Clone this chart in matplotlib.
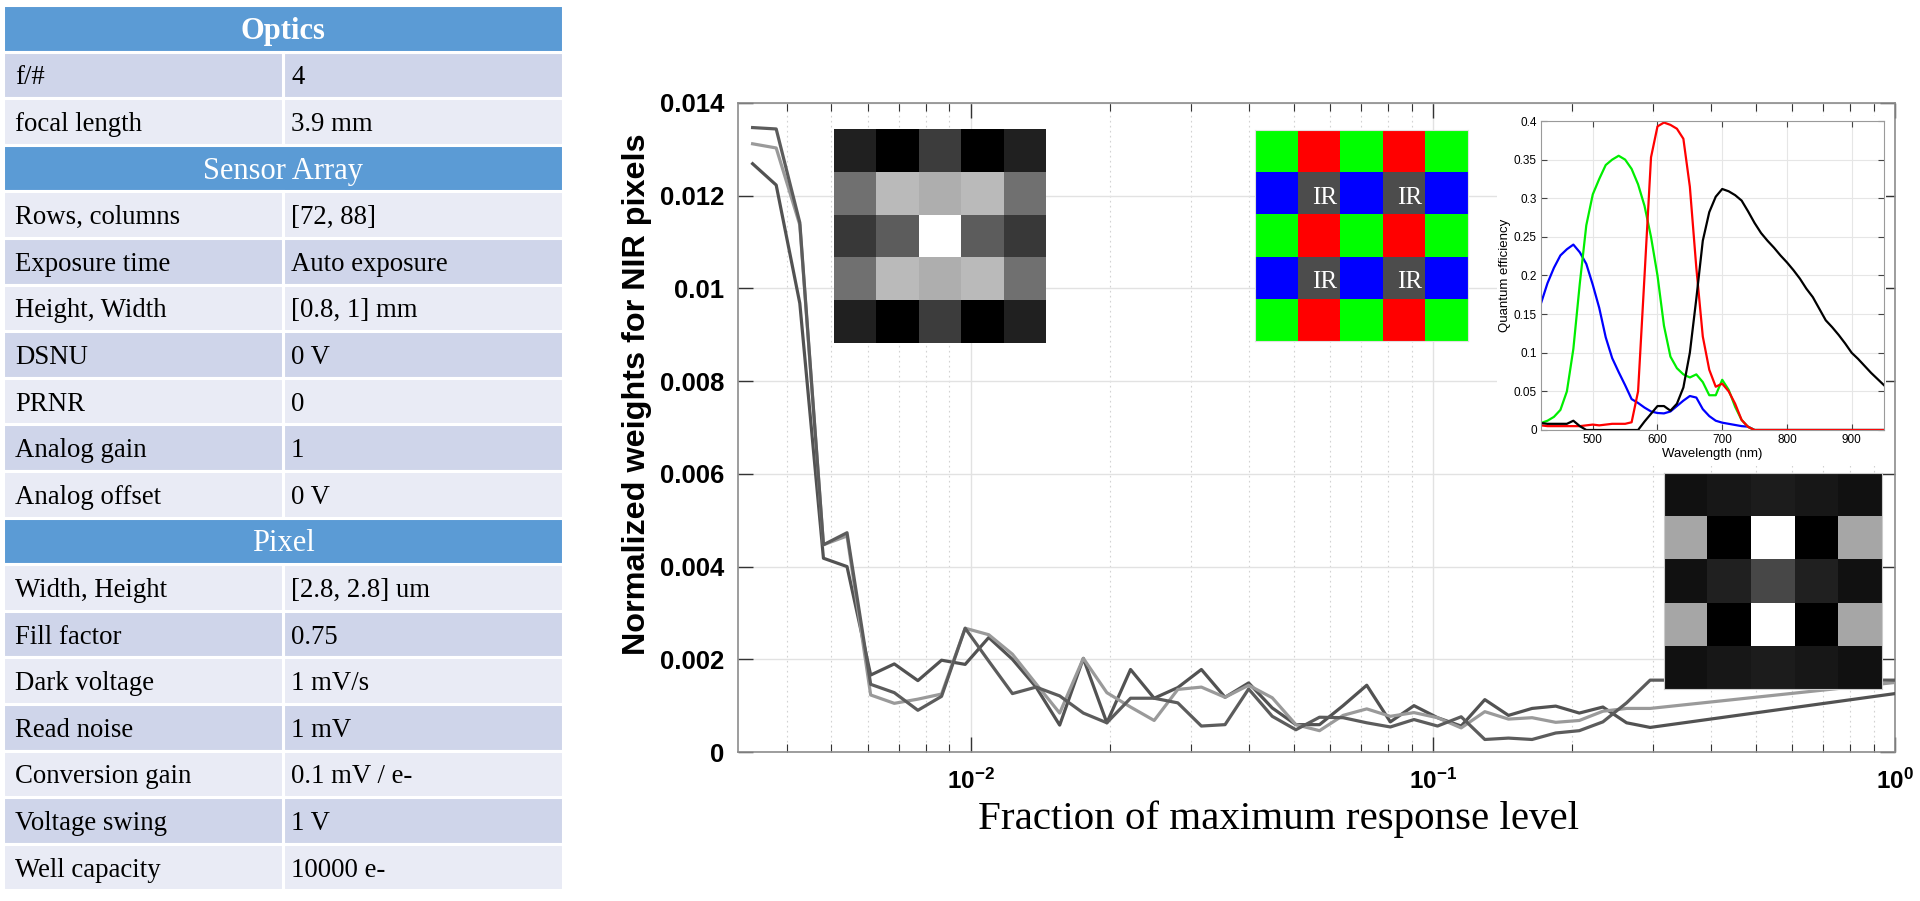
import numpy as np
import matplotlib
matplotlib.use('Agg')
import matplotlib.pyplot as plt
from matplotlib.patches import Rectangle
from matplotlib.ticker import LogLocator, NullFormatter

# ---------------- data ----------------
table_sections = ['Optics', 'Sensor Array', 'Pixel']
optics_params = ['f/#', 'focal length']
optics_values = ['4', '3.9 mm']
sensor_params = ['Rows, columns', 'Exposure time', 'Height, Width', 'DSNU', 'PRNR',
                 'Analog gain', 'Analog offset']
sensor_values = ['[72, 88]', 'Auto exposure', '[0.8, 1] mm', '0 V', '0', '1', '0 V']
pixel_params = ['Width, Height', 'Fill factor', 'Dark voltage', 'Read noise',
                'Conversion gain', 'Voltage swing', 'Well capacity']
pixel_values = ['[2.8, 2.8] um', '0.75', '1 mV/s', '1 mV', '0.1 mV / e-', '1 V', '10000 e-']

x_frac = [0.003377, 0.003798, 0.004272, 0.004806, 0.005405, 0.006081, 0.006840, 0.007693,
          0.008655, 0.009736, 0.01095, 0.01232, 0.01386, 0.01559, 0.01754, 0.01972,
          0.02219, 0.02496, 0.02808, 0.03158, 0.03553, 0.03996, 0.04495, 0.05057,
          0.05688, 0.06397, 0.07197, 0.08095, 0.09106, 0.1024, 0.1152, 0.1296,
          0.1458, 0.1640, 0.1845, 0.2075, 0.2334, 0.2626, 0.2953, 1.0]

nir_w1 = [0.01347, 0.01344, 0.01142, 0.00447, 0.00473, 0.00146, 0.00128, 0.00090,
          0.00120, 0.00267, 0.00196, 0.00126, 0.00140, 0.00121, 0.00084, 0.00063,
          0.00116, 0.00116, 0.00106, 0.00056, 0.00059, 0.00136, 0.00077, 0.00048,
          0.00075, 0.00074, 0.00063, 0.00054, 0.00070, 0.00056, 0.00076, 0.00027,
          0.00030, 0.00027, 0.00041, 0.00046, 0.00065, 0.00106, 0.00155, 0.00155]
nir_w2 = [0.01312, 0.01303, 0.01137, 0.00447, 0.00466, 0.00123, 0.00105, 0.00114,
          0.00125, 0.00267, 0.00253, 0.00211, 0.00147, 0.00084, 0.00202, 0.00128,
          0.00097, 0.00068, 0.00135, 0.00140, 0.00118, 0.00144, 0.00117, 0.00059,
          0.00046, 0.00079, 0.00093, 0.00077, 0.00085, 0.00074, 0.00052, 0.00087,
          0.00071, 0.00074, 0.00064, 0.00068, 0.00088, 0.00094, 0.00094, 0.00150]
nir_w3 = [0.01269, 0.01223, 0.00968, 0.00418, 0.00400, 0.00166, 0.00190, 0.00154,
          0.00198, 0.00189, 0.00247, 0.00200, 0.00140, 0.00058, 0.00202, 0.00063,
          0.00178, 0.00116, 0.00139, 0.00178, 0.00118, 0.00149, 0.00095, 0.00059,
          0.00059, 0.00100, 0.00144, 0.00065, 0.00100, 0.00074, 0.00056, 0.00113,
          0.00079, 0.00094, 0.00099, 0.00084, 0.00097, 0.00063, 0.00053, 0.00126]

y_ticks = [0, 0.002, 0.004, 0.006, 0.008, 0.010, 0.012, 0.014]
y_ticklabels = ['0', '0.002', '0.004', '0.006', '0.008', '0.01', '0.012', '0.014']
x_ticks = [0.01, 0.1, 1]
x_ticklabels = [r'$\mathbf{10^{-2}}$', r'$\mathbf{10^{-1}}$', r'$\mathbf{10^{0}}$']

# 5x5 weight kernels (grey levels)
kernel_rgb = [[0.13, 0.00, 0.24, 0.00, 0.13],
              [0.44, 0.73, 0.68, 0.73, 0.44],
              [0.22, 0.36, 1.00, 0.36, 0.22],
              [0.44, 0.73, 0.68, 0.73, 0.44],
              [0.13, 0.00, 0.24, 0.00, 0.13]]
kernel_nir = [[0.07, 0.09, 0.11, 0.09, 0.07],
              [0.65, 0.00, 1.00, 0.00, 0.65],
              [0.07, 0.13, 0.28, 0.13, 0.07],
              [0.65, 0.00, 1.00, 0.00, 0.65],
              [0.07, 0.09, 0.11, 0.09, 0.07]]
cfa_pattern = [['G', 'R', 'G', 'R', 'G'],
               ['B', 'IR', 'B', 'IR', 'B'],
               ['G', 'R', 'G', 'R', 'G'],
               ['B', 'IR', 'B', 'IR', 'B'],
               ['G', 'R', 'G', 'R', 'G']]

wavelength = [420, 430, 440, 450, 460, 470, 480, 490, 500, 510, 520, 530, 540, 550,
              560, 570, 580, 590, 600, 610, 620, 630, 640, 650, 660, 670, 680, 690,
              700, 710, 720, 730, 740, 750, 760, 770, 780, 790, 800, 810, 820, 830,
              840, 850, 860, 870, 880, 890, 900, 910, 920, 930, 940, 950]
qe_blue = [0.164, 0.190, 0.210, 0.226, 0.234, 0.240, 0.230, 0.215, 0.188, 0.158, 0.120,
           0.093, 0.075, 0.058, 0.040, 0.035, 0.029, 0.024, 0.022, 0.0215, 0.024, 0.031,
           0.038, 0.044, 0.042, 0.027, 0.018, 0.012, 0.0095, 0.008, 0.0065, 0.005, 0.0043,
           0, 0, 0, 0, 0, 0, 0, 0, 0, 0, 0, 0, 0, 0, 0, 0, 0, 0, 0, 0, 0]
qe_green = [0.009, 0.012, 0.017, 0.026, 0.050, 0.105, 0.190, 0.265, 0.305, 0.325, 0.343,
            0.350, 0.355, 0.350, 0.338, 0.318, 0.290, 0.250, 0.200, 0.135, 0.095, 0.080,
            0.072, 0.068, 0.072, 0.062, 0.045, 0.045, 0.065, 0.052, 0.030, 0.013, 0.004,
            0, 0, 0, 0, 0, 0, 0, 0, 0, 0, 0, 0, 0, 0, 0, 0, 0, 0, 0, 0, 0]
qe_red = [0.006, 0.005, 0.005, 0.005, 0.005, 0.005, 0.005, 0.006, 0.007, 0.006, 0.007,
          0.008, 0.008, 0.008, 0.010, 0.050, 0.200, 0.353, 0.393, 0.398, 0.395, 0.390,
          0.377, 0.315, 0.210, 0.121, 0.078, 0.056, 0.060, 0.050, 0.034, 0.013, 0.004,
          0, 0, 0, 0, 0, 0, 0, 0, 0, 0, 0, 0, 0, 0, 0, 0, 0, 0, 0, 0, 0]
qe_nir = [0.009, 0.008, 0.008, 0.008, 0.008, 0.012, 0.005, 0, 0, 0, 0, 0, 0, 0, 0, 0,
          0.011, 0.021, 0.031, 0.031, 0.025, 0.034, 0.055, 0.100, 0.170, 0.245, 0.282,
          0.302, 0.312, 0.309, 0.304, 0.297, 0.283, 0.268, 0.255, 0.245, 0.236, 0.226,
          0.217, 0.207, 0.196, 0.183, 0.172, 0.157, 0.142, 0.133, 0.123, 0.112, 0.100,
          0.092, 0.083, 0.074, 0.066, 0.058]
qe_xticks = [500, 600, 700, 800, 900]
qe_yticks = [0, 0.05, 0.1, 0.15, 0.2, 0.25, 0.3, 0.35, 0.4]
qe_yticklabels = ['0', '0.05', '0.1', '0.15', '0.2', '0.25', '0.3', '0.35', '0.4']

# ---------------- figure ----------------
plt.rcParams['mathtext.fontset'] = 'custom'
plt.rcParams['mathtext.rm'] = 'Liberation Sans'
plt.rcParams['mathtext.bf'] = 'Liberation Sans:bold'

W, H = 1920, 901
fig = plt.figure(figsize=(W / 100, H / 100), dpi=100)
fig.patch.set_facecolor('white')


def fig_rect(x0, y0, x1, y1):
    return [x0 / W, 1 - y1 / H, (x1 - x0) / W, (y1 - y0) / H]


# ---------------- table ----------------
axt = fig.add_axes([0, 0, 1, 1])
axt.set_xlim(0, W)
axt.set_ylim(H, 0)
axt.axis('off')

T_LEFT, T_RIGHT, T_SPLIT = 3, 563, 283
T_TOP, ROW_H = 5, 46.6
HEAD_C, DARK_C, LIGHT_C = '#5b9bd5', '#cfd5ea', '#e9ebf5'
serif = ['Liberation Serif', 'DejaVu Serif']

sections = [(table_sections[0], optics_params, optics_values, True),
            (table_sections[1], sensor_params, sensor_values, False),
            (table_sections[2], pixel_params, pixel_values, False)]
r = 0
for sec_i, (sec, params, vals, start_dark) in enumerate(sections):
    y0 = T_TOP + r * ROW_H
    axt.add_patch(Rectangle((T_LEFT, y0), T_RIGHT - T_LEFT, ROW_H, facecolor=HEAD_C,
                            edgecolor='white', lw=2.2))
    axt.text((T_LEFT + T_RIGHT) / 2, y0 + ROW_H / 2 + 3, sec, ha='center', va='center',
             color='white', fontsize=22, family=serif,
             fontweight='bold' if sec_i == 0 else 'normal')
    r += 1
    for i, (p, v) in enumerate(zip(params, vals)):
        y0 = T_TOP + r * ROW_H
        dark = (i % 2 == 0) == start_dark
        c = DARK_C if dark else LIGHT_C
        axt.add_patch(Rectangle((T_LEFT, y0), T_SPLIT - T_LEFT, ROW_H, facecolor=c,
                                edgecolor='white', lw=2.2))
        axt.text(T_LEFT + 12, y0 + ROW_H / 2 + 3, p, ha='left', va='center',
                 fontsize=19.3, family=serif, color='black')
        axt.text(T_SPLIT + 8, y0 + ROW_H / 2 + 3, v, ha='left', va='center',
                 fontsize=19.3, family=serif, color='black')
        axt.add_patch(Rectangle((T_SPLIT, y0), T_RIGHT - T_SPLIT, ROW_H, facecolor=c,
                                edgecolor='white', lw=2.2, zorder=0.5))
        r += 1

# ---------------- main axes ----------------
ax = fig.add_axes(fig_rect(738, 103, 1895, 752))
ax.set_xscale('log')
ax.set_xlim(0.00314, 1)
ax.set_ylim(0, 0.014)
ax.set_axisbelow(True)
ax.plot(x_frac, nir_w3, color='#525252', lw=2.3, zorder=3)
ax.plot(x_frac, nir_w2, color='#9a9a9a', lw=2.3, zorder=3)
ax.plot(x_frac, nir_w1, color='#5c5c5c', lw=2.3, zorder=3)

ax.set_yticks(y_ticks, labels=y_ticklabels)
ax.set_xticks(x_ticks, labels=x_ticklabels)
ax.xaxis.set_minor_locator(LogLocator(base=10, subs=(2, 3, 4, 5, 6, 7, 8, 9), numticks=20))
ax.xaxis.set_minor_formatter(NullFormatter())
ax.tick_params(which='both', direction='in', top=True, right=True, color='#333333')
ax.tick_params(which='major', length=11, width=1)
ax.tick_params(which='minor', length=6, width=0.8)
ax.tick_params(axis='y', which='minor', left=False, right=False)
ax.tick_params(axis='y', pad=10, labelsize=18.5)
ax.tick_params(axis='x', pad=12, labelsize=17.5)
for lab in ax.get_yticklabels():
    lab.set_fontweight('bold')
    lab.set_family('Liberation Sans')
ax.grid(which='major', color='#e2e2e2', lw=1.0)
ax.grid(which='minor', axis='x', color='#d2d2d2', lw=0.8, ls=(0, (1.5, 3)))
for s in ax.spines.values():
    s.set_color('#8c8c8c')
    s.set_linewidth(1.2)

ax.set_ylabel('Normalized weights for NIR pixels', fontsize=23.3, fontweight='bold',
              family='Liberation Sans', va='center')
ax.yaxis.set_label_coords(-0.0873, 0.5516)
ax.set_xlabel('Fraction of maximum response level', fontsize=29.5, family=serif,
              va='center')
ax.xaxis.set_label_coords(0.467, -0.1032)

# ---------------- inset: RGB kernel ----------------
ai1 = fig.add_axes(fig_rect(834, 129, 1046, 343))
ai1.imshow(np.array(kernel_rgb), cmap='gray', vmin=0, vmax=1, aspect='auto',
           interpolation='nearest')
ai1.set_xticks([])
ai1.set_yticks([])
for s in ai1.spines.values():
    s.set_visible(False)

# ---------------- inset: CFA pattern ----------------
cfa_colors = {'G': (0, 1, 0), 'R': (1, 0, 0), 'B': (0, 0, 1), 'IR': (0.30, 0.30, 0.30)}
cfa_img = np.array([[cfa_colors[c] for c in row] for row in cfa_pattern])
ai2 = fig.add_axes(fig_rect(1255, 130, 1468, 341))
ai2.imshow(cfa_img, aspect='auto', interpolation='nearest')
for i, row in enumerate(cfa_pattern):
    for j, c in enumerate(row):
        if c == 'IR':
            ai2.text(j + 0.13, i + 0.1, 'IR', ha='center', va='center', color='white',
                     fontsize=18, family=serif)
ai2.set_xticks([])
ai2.set_yticks([])
for s in ai2.spines.values():
    s.set_color('#e0e0e0')
    s.set_linewidth(0.8)

# ---------------- inset: QE curves ----------------
bg = fig.add_axes(fig_rect(1497, 116, 1886, 466))
bg.set_facecolor('white')
bg.set_xticks([])
bg.set_yticks([])
for s in bg.spines.values():
    s.set_visible(False)

aq = fig.add_axes(fig_rect(1541, 121, 1884, 430))
aq.plot(wavelength, qe_blue, color='#0000ff', lw=1.6)
aq.plot(wavelength, qe_green, color='#00ee00', lw=1.6)
aq.plot(wavelength, qe_red, color='#ff0000', lw=1.6)
aq.plot(wavelength, qe_nir, color='#000000', lw=1.6)
aq.set_xlim(420, 950)
aq.set_ylim(0, 0.4)
aq.set_xticks(qe_xticks)
aq.set_yticks(qe_yticks, labels=qe_yticklabels)
aq.tick_params(direction='in', top=True, right=True, length=4, labelsize=8.5, pad=3,
               color='#444444')
for lab in aq.get_xticklabels() + aq.get_yticklabels():
    lab.set_family('Liberation Sans')
aq.grid(color='#e6e6e6', lw=0.8)
aq.set_axisbelow(True)
for s in aq.spines.values():
    s.set_color('#9a9a9a')
    s.set_linewidth(0.8)
aq.set_xlabel('Wavelength (nm)', fontsize=9.5, family='Liberation Sans', labelpad=1)
aq.set_ylabel('Quantum efficiency', fontsize=9.5, family='Liberation Sans', labelpad=2)

# ---------------- inset: NIR kernel ----------------
ai3 = fig.add_axes(fig_rect(1664, 473, 1882, 689))
ai3.imshow(np.array(kernel_nir), cmap='gray', vmin=0, vmax=1, aspect='auto',
           interpolation='nearest')
ai3.set_xticks([])
ai3.set_yticks([])
for s in ai3.spines.values():
    s.set_color('#cccccc')
    s.set_linewidth(0.8)

fig.savefig('out.png', dpi=100, facecolor='white')
